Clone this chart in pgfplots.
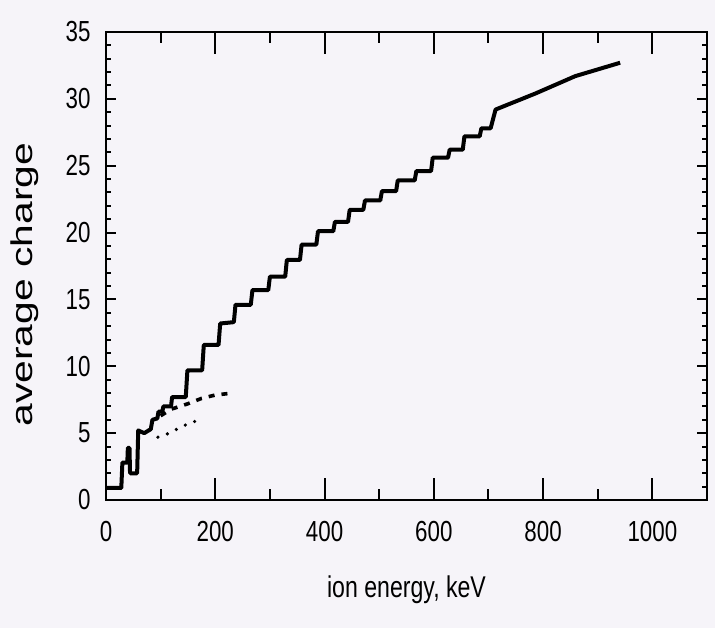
\documentclass[border=0pt]{standalone}
\usepackage{fontspec}
\setmainfont{Liberation Sans}[FakeStretch=0.77]
\newfontfamily\ylabfont{Liberation Sans}[FakeStretch=1.36]
\usepackage{pgfplots}
\pgfplotsset{compat=1.18}
\usetikzlibrary{backgrounds}
\definecolor{paper}{RGB}{246,244,249}

\pgfplotsset{
  frame/.style={
    scale only axis, width=300.5pt, height=234pt,
    xmin=0, xmax=1100, ymin=0, ymax=35,
    tick align=inside, clip=false,
    axis line style={line width=1pt},
    tick style={black, line width=1pt},
    /pgf/number format/assume math mode=true,
    /pgf/number format/1000 sep={},
    tick label style={font=\fontsize{14.5}{17}\selectfont},
  }
}

\begin{document}
\begin{tikzpicture}[show background rectangle, inner frame sep=0pt,
  background rectangle/.style={fill=paper, draw=none}]
% x ticks (long)
\begin{axis}[frame,
  xtick={0,200,...,1000}, minor x tick num=1, ytick=\empty,
  major tick length=11pt, minor tick length=5.5pt,
  xticklabel style={anchor=center, yshift=-16pt},
  xlabel={ion energy, keV},
  xlabel style={at={([yshift=-45pt]rel axis cs:0.5,0)}, anchor=center, font=\fontsize{15}{18}\selectfont},
]
\end{axis}
% y ticks (short) and data
\begin{axis}[frame,
  xtick=\empty, ytick={0,5,...,35}, minor y tick num=4,
  major tick length=5pt, minor tick length=2.5pt,
  yticklabel style={anchor=east, xshift=-4.2pt},
  ylabel={average charge},
  ylabel style={at={([xshift=-40.5pt]rel axis cs:0,0.46)}, anchor=center, font=\ylabfont\fontsize{15}{18}\selectfont},
]
% main curve (steps)
\addplot[black, line width=2pt, line join=round] coordinates {
  (2,0.9) (28,0.9) (30,2.8) (39,2.8) (40,3.9) (43,3.9) (44,2.0) (57,2.0)
  (59,5.2) (70,5.0) (82,5.3) (85,6.0) (94,6.1) (96,6.6) (103,6.6)
  (105,7.0) (119,7.0) (121,7.7) (146,7.7) (149,9.7) (176,9.7)
  (179,11.6) (206,11.6) (209,13.2) (234,13.3) (237,14.6) (265,14.6)
  (268,15.7) (297,15.7) (300,16.7) (328,16.7) (331,17.95) (355,17.95)
  (358,19.1) (385,19.1) (388,20.1) (416,20.1) (419,20.8) (443,20.8)
  (446,21.7) (471,21.7) (474,22.4) (502,22.4) (505,23.1) (531,23.1)
  (534,23.9) (565,23.9) (568,24.6) (595,24.6) (598,25.6) (626,25.6)
  (629,26.2) (653,26.2) (656,27.2) (684,27.2) (687,27.8) (704,27.8)
  (713,29.2) (786,30.4) (859,31.7) (941,32.7)
};
% dashed
\addplot[black, line width=1.8pt, dash pattern=on 3pt off 3.5pt] coordinates {
  (100,6.3) (120,6.8) (150,7.2) (175,7.6) (200,7.85) (232,8.0)
};
% dotted
\addplot[black, line width=1.8pt, line cap=round, dash pattern=on 0pt off 5pt] coordinates {
  (95,4.7) (110,4.9) (125,5.2) (140,5.5) (155,5.8) (175,6.0)
};
\path ([xshift=-53pt,yshift=-64pt]rel axis cs:0,0) rectangle ([xshift=4pt,yshift=16pt]rel axis cs:1,1);
\end{axis}
\end{tikzpicture}
\end{document}
